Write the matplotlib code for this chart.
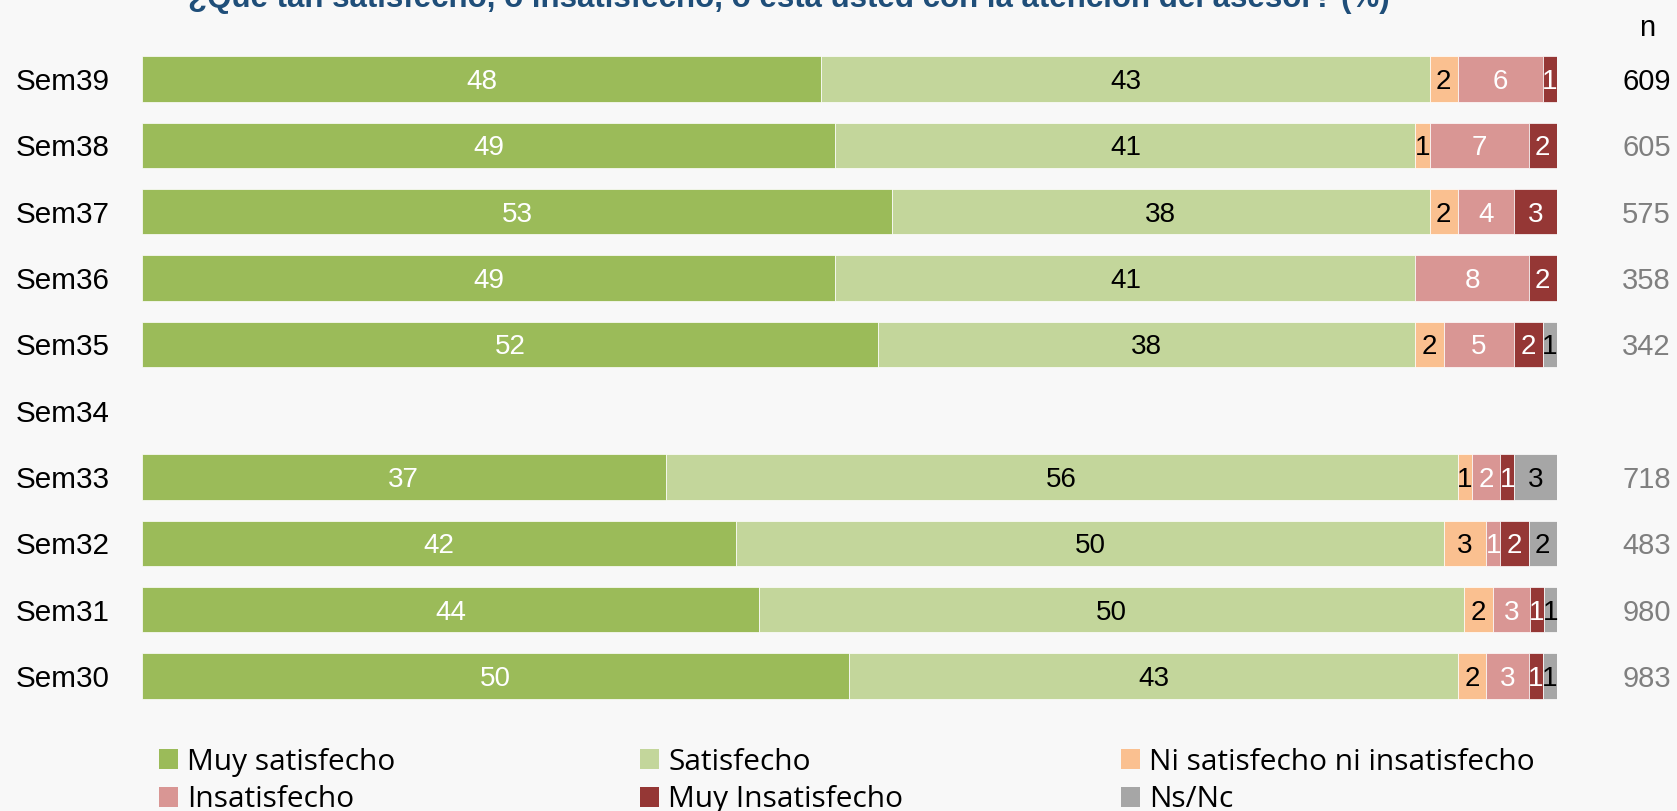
import matplotlib
matplotlib.use('Agg')
import matplotlib.pyplot as plt
import matplotlib.transforms as mtransforms
from matplotlib.patches import Patch
import numpy as np

plt.rcParams['font.family'] = ['Liberation Sans', 'DejaVu Sans']

semanas = ['Sem39', 'Sem38', 'Sem37', 'Sem36', 'Sem35', 'Sem34', 'Sem33', 'Sem32', 'Sem31', 'Sem30']
muy_satisfecho = [48, 49, 53, 49, 52, 0, 37, 42, 43.6, 50]
satisfecho = [43, 41, 38, 41, 38, 0, 56, 50, 49.8, 43]
ni_ni = [2, 1, 2, 0, 2, 0, 1, 3, 2.1, 2]
insatisfecho = [6, 7, 4, 8, 5, 0, 2, 1, 2.6, 3]
muy_insatisfecho = [1, 2, 3, 2, 2, 0, 1, 2, 1.0, 1]
ns_nc = [0, 0, 0, 0, 1, 0, 3, 2, 0.9, 1]
n_casos = ['609', '605', '575', '358', '342', '', '718', '483', '980', '983']

series = [
    ('Muy satisfecho', muy_satisfecho, '#9BBB59', 'white'),
    ('Satisfecho', satisfecho, '#C3D69B', 'black'),
    ('Ni satisfecho ni insatisfecho', ni_ni, '#FAC090', 'black'),
    ('Insatisfecho', insatisfecho, '#D99694', 'white'),
    ('Muy Insatisfecho', muy_insatisfecho, '#953735', 'white'),
    ('Ns/Nc', ns_nc, '#A6A6A6', 'black'),
]

fig = plt.figure(figsize=(16.77, 8.11), dpi=100)
fig.patch.set_facecolor('#f8f8f8')
ax = fig.add_axes([0.0847, 0.1255, 0.8437, 0.818])
ax.set_facecolor('none')

y = np.arange(len(semanas))
left = np.zeros(len(semanas))
for nombre, vals, color, txt_color in series:
    vals = np.array(vals, dtype=float)
    lw = [0.5 if v > 0 else 0 for v in vals]
    bars = ax.barh(y, vals, left=left, height=0.68, color=color,
                   edgecolor='white', linewidth=lw, label=nombre)
    for b, v in zip(bars, vals):
        if v >= 0.5:
            ax.text(b.get_x() + b.get_width() / 2, b.get_y() + b.get_height() / 2,
                    f'{v:.0f}', ha='center', va='center_baseline', fontsize=20,
                    color=txt_color)
    left += vals

ax.set_xlim(0, 100)
ax.set_ylim(len(semanas) - 0.5, -0.5)
ax.set_yticks(y)
ax.set_yticklabels(semanas, fontsize=21.3)
for t in ax.get_yticklabels():
    t.set_va('center_baseline')
ax.tick_params(axis='y', length=0, pad=23.5)
ax.set_xticks([])
for s in ax.spines.values():
    s.set_visible(False)

# columna de n a la derecha
trans = mtransforms.blended_transform_factory(fig.transFigure, ax.transData)
for i, n in enumerate(n_casos):
    ax.text(1646.5 / 1677, i, n, transform=trans, ha='center', va='center_baseline',
            fontsize=21, color='black' if i == 0 else '#7f7f7f')
fig.text(1647 / 1677, 1 - 25 / 811, 'n', ha='center', va='center_baseline', fontsize=21)

fig.text(0.4705, 1 - 7 / 811,
         '¿Qué tan satisfecho, o insatisfecho, o está usted con la atención del asesor? (%)',
         ha='center', va='baseline', fontsize=22.5, fontweight='bold', color='#1F4E79')

# leyenda en tres columnas, cada una con dos filas
handles = [Patch(facecolor=c, label=nm) for nm, _, c, _ in series]
col_x = [159 / 1677, 640 / 1677, 1121 / 1677]
for k, x0 in enumerate(col_x):
    leg = fig.legend(handles=[handles[k], handles[k + 3]], loc='center left',
                     bbox_to_anchor=(x0, 1 - 781 / 811), ncol=1, frameon=False,
                     prop={'family': 'Open Sans', 'size': 21.5},
                     handlelength=0.64, handleheight=0.64, handletextpad=0.3,
                     labelspacing=0.28, borderaxespad=0, borderpad=0)

fig.savefig('out.png', dpi=100, facecolor=fig.get_facecolor())
